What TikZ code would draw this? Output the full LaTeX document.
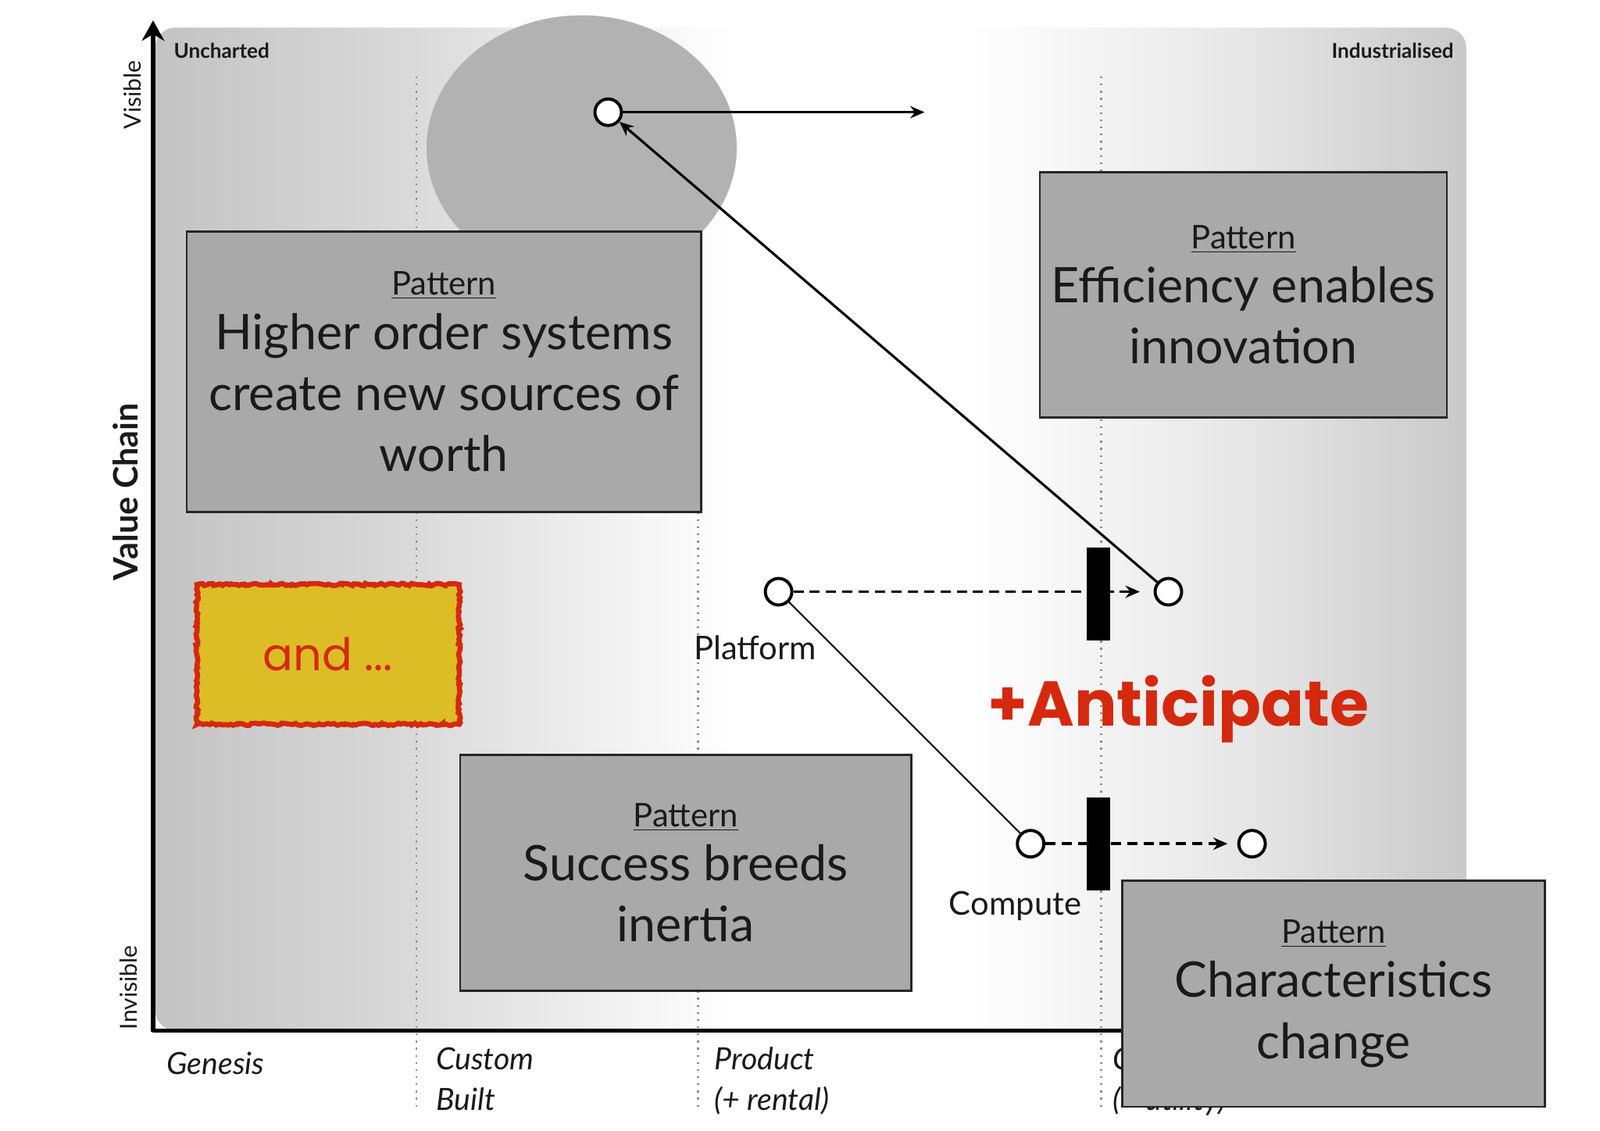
\documentclass[tikz,border=0pt]{standalone}
\usepackage{fontspec}
\setmainfont{Lato}
\newfontfamily\comicfont{Poppins}
\usetikzlibrary{arrows.meta,shapes.geometric,decorations.pathmorphing}
\definecolor{boxgray}{HTML}{A9A9A9}
\definecolor{ellgray}{HTML}{B2B2B2}
\definecolor{redtxt}{HTML}{D4290F}
\definecolor{yel}{HTML}{DCBD26}
\definecolor{txt}{HTML}{1A1A1A}
\definecolor{bgA}{HTML}{C3C3C3}
\definecolor{bgB}{HTML}{D9D9D9}
\definecolor{bgD}{HTML}{E8E8E8}
\definecolor{bgE}{HTML}{C9C9C9}
\pgfdeclarehorizontalshading{wbg}{100bp}{color(0bp)=(bgA); color(25bp)=(bgA); color(34.6bp)=(bgB); color(47bp)=(white); color(56bp)=(white); color(66bp)=(bgD); color(75bp)=(bgE); color(100bp)=(bgE)}
\begin{document}
\begin{tikzpicture}[x=0.5pt,y=-0.5pt,
  pbox/.style={draw=black!85, line width=1pt, fill=boxgray, inner sep=0pt, align=center, text=txt,
     font=\fontsize{24}{30}\selectfont},
  comp/.style={circle, draw=black, line width=1.5pt, fill=white, minimum size=13pt, inner sep=0pt},
  bar/.style={fill=black, minimum width=11.5pt, minimum height=45.5pt, inner sep=0pt},
  dotline/.style={draw=black!45, line width=0.9pt, dash pattern=on 0.9pt off 2.6pt},
  dashline/.style={line width=1.3pt, dash pattern=on 5pt off 3pt},
  tip/.style={-{Stealth[length=7pt,width=6pt]}},
  lab/.style={inner sep=0pt, text=txt},
  axlab/.style={inner sep=0pt, text=txt, align=left, font=\itshape\fontsize{15}{20}\selectfont}
]
\useasboundingbox (0,0) rectangle (1568,1108);
\fill[white] (0,0) rectangle (1568,1108);
% panel
\shade[shading=wbg, rounded corners=10pt] (152,27) rectangle (1437,1010);
% evolution lines
\draw[dotline] (408,75) -- (408,1085);
\draw[dotline] (684,75) -- (684,1085);
\draw[dotline] (1079,75) -- (1079,1085);
% ellipse
\node[ellipse, fill=ellgray, minimum width=152pt, minimum height=130pt, inner sep=0pt] (ell) at (570,145) {};
% axes
\draw[line width=2pt, -{Stealth[length=10pt,width=11pt]}] (150,1011) -- (150,20);
\draw[line width=2pt] (149,1010) -- (1437,1010);
% axis labels
\node[lab, rotate=90, font=\fontsize{11.5}{14}\selectfont] (vis) at (130,93) {Visible};
\node[lab, rotate=90, font=\bfseries\fontsize{16.5}{20}\selectfont] (vc) at (123,482) {Value Chain};
\node[lab, rotate=90, font=\fontsize{11.5}{14}\selectfont] (invis) at (126,968) {Invisible};
\node[lab, anchor=base west, font=\bfseries\fontsize{10}{12}\selectfont] (unch) at (170,57) {Uncharted};
\node[lab, anchor=base east, font=\bfseries\fontsize{10}{12}\selectfont] (ind) at (1425,57) {Industrialised};
\node[axlab, anchor=north west] (gen) at (163,1031) {Genesis};
\node[axlab, anchor=north west] (cus) at (427,1026) {Custom\\Built};
\node[axlab, anchor=north west] (prod) at (700,1026) {Product\\(+ rental)};
\node[axlab, anchor=north west] (comm) at (1090,1026) {Commodity\\(+ utility)};
% pattern boxes
\node[pbox, minimum width=252pt, minimum height=137.5pt] (hos) at (435,364.5)
  {{\fontsize{16}{18}\selectfont\underline{Pattern}}\\[-3.5pt]Higher order systems\\create new sources of\\worth};
\node[pbox, minimum width=199.5pt, minimum height=120pt] (eei) at (1218.5,289)
  {{\fontsize{16}{18}\selectfont\underline{Pattern}}\\[-3.5pt]Efficiency enables\\innovation};
\node[pbox, minimum width=221pt, minimum height=115.5pt] (sbi) at (672,855.5)
  {{\fontsize{16}{18}\selectfont\underline{Pattern}}\\[-3.5pt]Success breeds\\inertia};
% and box
\node[fill=yel, draw=redtxt, line width=2.5pt, decorate, decoration={random steps, segment length=1.2pt, amplitude=0.6pt},
  minimum width=128.5pt, minimum height=68.5pt, inner sep=0pt, text=redtxt, font=\comicfont\fontsize{22}{26}\selectfont] (andb) at (321.5,641.5) {and ...};
% components
\node[comp] (top) at (596,110) {};
\coordinate (topend) at (906,110);
\node[comp] (plat) at (763,580) {};
\node[comp] (c3) at (1145,580) {};
\node[comp] (comp) at (1010,827) {};
\node[comp] (c4) at (1227,827) {};
\coordinate (pend) at (1117,580);
\coordinate (cend) at (1203,827);
\node[lab, font=\fontsize{16}{18}\selectfont] (platl) at (740,635) {Platform};
\node[lab, font=\fontsize{16}{18}\selectfont] (compl) at (995,888) {Compute};
% connectors
\draw[line width=1pt, tip] (top) -- (topend);
\draw[line width=1.2pt, tip] (c3) -- (top);
\draw[line width=0.8pt] (plat) -- (comp);
\draw[dashline, tip] (plat) -- (pend);
\draw[dashline, tip] (comp) -- (cend);
\node[bar] (bar1) at (1076.5,582.5) {};
\node[bar] (bar2) at (1076.5,827.5) {};
\node[inner sep=0pt, anchor=base, text=redtxt, font=\comicfont\bfseries\fontsize{31}{36}\selectfont] (antic) at (1155,712) {+Anticipate};
% characteristics box
\node[pbox, minimum width=207pt, minimum height=111pt] (chc) at (1307,974)
  {{\fontsize{16}{18}\selectfont\underline{Pattern}}\\[-3.5pt]Characteristics\\change};
\end{tikzpicture}
\end{document}
